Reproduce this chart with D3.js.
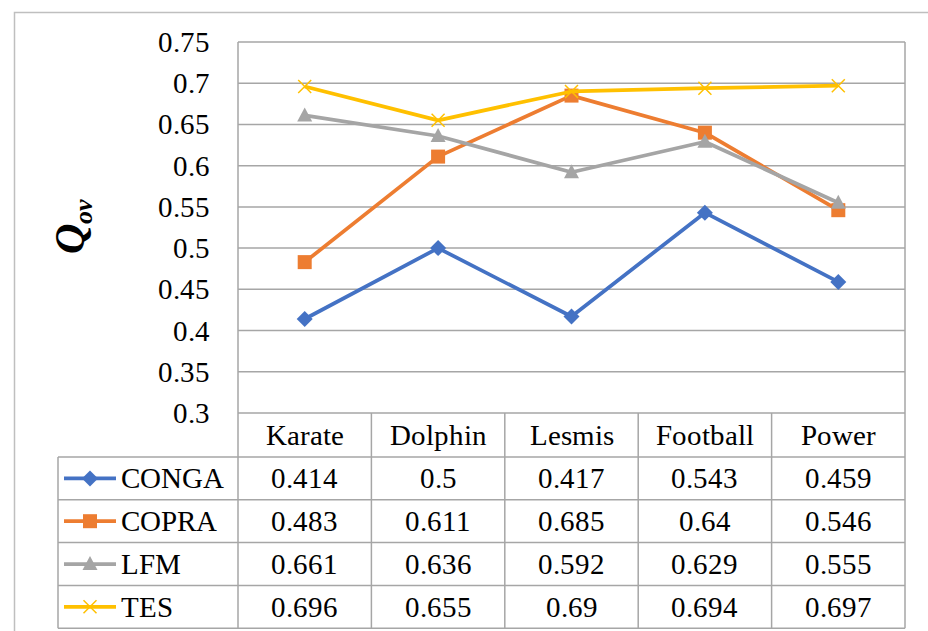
<!DOCTYPE html>
<html>
<head>
<meta charset="utf-8">
<script src="https://cdn.jsdelivr.net/npm/d3@7"></script>
<style>
  @font-face { font-family: "ChartSerif"; font-style: normal; font-weight: 400;
    src: local("Liberation Serif"), local("LiberationSerif"), local("Times New Roman"); }
  @font-face { font-family: "ChartSerif"; font-style: italic; font-weight: 700;
    src: local("Liberation Serif Bold Italic"), local("LiberationSerif-BoldItalic"), local("Times New Roman Bold Italic"); }
  svg text { font-family: "ChartSerif", "Liberation Serif", "Times New Roman", serif; }
</style>
</head>
<body style="margin:0">
<svg id="s" width="928" height="631"></svg>
<script>
// Datasets (table columns) and Q_ov per method
const categories = ["Karate", "Dolphin", "Lesmis", "Football", "Power"];
const seriesNames = ["CONGA", "COPRA", "LFM", "TES"];
const conga = [0.414, 0.5, 0.417, 0.543, 0.459];
const copra = [0.483, 0.611, 0.685, 0.64, 0.546];
const lfm   = [0.661, 0.636, 0.592, 0.629, 0.555];
const tes   = [0.696, 0.655, 0.69, 0.694, 0.697];
const yTicks = [0.3, 0.35, 0.4, 0.45, 0.5, 0.55, 0.6, 0.65, 0.7, 0.75];

const seriesValues = [conga, copra, lfm, tes];
const colors = ["#4472C4", "#ED7D31", "#A5A5A5", "#FFC000"];
const markers = ["diamond", "square", "triangle", "cross"];

const faces = ["ChartSerif", "Liberation Serif", "Times New Roman"];
const FONT = faces.map(f => `"${f}"`).join(", ");
const FS = 29;
const svg = d3.select("#s");
const gridColor = "#a6a6a6";

const plot = { left: 238, right: 905, top: 42, bottom: 413 };
const table = { left: 58, headerBottom: 457, rowH: 42.8 };

const x = d3.scaleBand().domain(categories).range([plot.left, plot.right]);
const y = d3.scaleLinear().domain([0.3, 0.75]).range([plot.bottom, plot.top]);

// Serif text element, appended straight to the svg
function addText(tx, ty, str, anchor, size) {
  return svg.append("text")
    .attr("x", tx).attr("y", ty + 10)
    .style("font-family", FONT)
    .attr("font-size", size || FS)
    .attr("text-anchor", anchor)
    .text(str);
}

// Outer chart frame (left and top edges)
svg.append("path")
  .attr("d", `M14.5,631 V12.5 H928`)
  .attr("fill", "none").attr("stroke", "#bfbfbf").attr("stroke-width", 1.5);

// Horizontal gridlines
svg.append("g").selectAll("line").data(yTicks).join("line")
  .attr("x1", plot.left).attr("x2", plot.right)
  .attr("y1", d => y(d)).attr("y2", d => y(d))
  .attr("stroke", gridColor).attr("stroke-width", 1.5);

// Y tick labels
yTicks.forEach(t => addText(210, y(t), String(t), "end"));

// Y axis title: Q with subscript "ov"
const yTitle = svg.append("text")
  .attr("transform", "translate(84,226) rotate(-90)")
  .style("font-family", FONT)
  .attr("text-anchor", "middle")
  .attr("font-style", "italic")
  .attr("font-weight", "bold");
yTitle.append("tspan").attr("font-size", 42).text("Q");
yTitle.append("tspan").attr("font-size", 26).attr("dy", 8).text("ov");

// Data table grid
const nRows = seriesNames.length;
const tableBottom = table.headerBottom + table.rowH * nRows;
const tg = svg.append("g").attr("stroke", gridColor).attr("stroke-width", 1.5);
// vertical lines: plot left edge / column boundaries / right edge
const colEdges = categories.map(c => x(c)).concat([plot.right]);
colEdges.forEach(cx => {
  tg.append("line").attr("x1", cx).attr("x2", cx)
    .attr("y1", cx === plot.left || cx === plot.right ? plot.top : plot.bottom)
    .attr("y2", tableBottom);
});
// vertical line at table's left edge
tg.append("line").attr("x1", table.left).attr("x2", table.left)
  .attr("y1", table.headerBottom).attr("y2", tableBottom);
// horizontal row lines
d3.range(nRows + 1).forEach(i => {
  const yy = table.headerBottom + i * table.rowH;
  tg.append("line").attr("x1", table.left).attr("x2", plot.right)
    .attr("y1", yy).attr("y2", yy);
});

// Header (category names)
categories.forEach(c => addText(x(c) + x.bandwidth() / 2, (plot.bottom + table.headerBottom) / 2, c, "middle"));

// Marker drawing
function drawMarker(g, type, color, cx, cy) {
  if (type === "diamond") {
    g.append("path").attr("d", `M${cx},${cy - 8} L${cx + 8},${cy} L${cx},${cy + 8} L${cx - 8},${cy} Z`)
      .attr("fill", color);
  } else if (type === "square") {
    g.append("rect").attr("x", cx - 7).attr("y", cy - 7).attr("width", 14).attr("height", 14)
      .attr("fill", color);
  } else if (type === "triangle") {
    g.append("path").attr("d", `M${cx},${cy - 8} L${cx + 7.5},${cy + 6} L${cx - 7.5},${cy + 6} Z`)
      .attr("fill", color);
  } else if (type === "cross") {
    g.append("path").attr("d", `M${cx - 6.5},${cy - 6.5} L${cx + 6.5},${cy + 6.5} M${cx - 6.5},${cy + 6.5} L${cx + 6.5},${cy - 6.5}`)
      .attr("stroke", color).attr("stroke-width", 1.5).attr("fill", "none");
  }
}

// Series lines and markers
const line = d3.line()
  .x((d, i) => x(categories[i]) + x.bandwidth() / 2)
  .y(d => y(d));

seriesValues.forEach((vals, s) => {
  const g = svg.append("g");
  g.append("path").datum(vals)
    .attr("d", line)
    .attr("fill", "none")
    .attr("stroke", colors[s])
    .attr("stroke-width", 3.75)
    .attr("stroke-linejoin", "round");
  vals.forEach((v, i) => {
    drawMarker(g, markers[s], colors[s], x(categories[i]) + x.bandwidth() / 2, y(v));
  });
});

// Table rows: legend key, name and values
seriesNames.forEach((name, s) => {
  const cy = table.headerBottom + table.rowH * (s + 0.5);
  const g = svg.append("g");
  g.append("line").attr("x1", 64).attr("x2", 116).attr("y1", cy).attr("y2", cy)
    .attr("stroke", colors[s]).attr("stroke-width", 3.75);
  drawMarker(g, markers[s], colors[s], 90, cy);
  addText(121, cy, name, "start");
  seriesValues[s].forEach((v, i) => {
    addText(x(categories[i]) + x.bandwidth() / 2, cy, String(v), "middle");
  });
});
</script>
</body>
</html>
